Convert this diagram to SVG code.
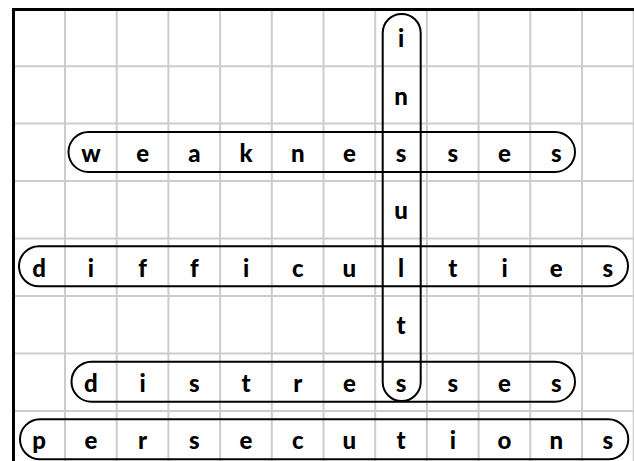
<svg xmlns="http://www.w3.org/2000/svg" width="634" height="461" viewBox="0 0 634 461">
<style>
.g{stroke:#cccccc;stroke-width:2;fill:none}
.b{stroke:#000;stroke-width:3;fill:none}
.w{stroke:#000;stroke-width:2;fill:none}
text{font-family:Lato,"Noto Sans","DejaVu Sans",sans-serif;font-weight:900;font-size:24px;text-anchor:middle;fill:#000}
</style>
<rect width="634" height="461" fill="#fff"/>
<g id="grid" class="g">
<path d="M65,9V461M116.7,9V461M168.4,9V461M220.1,9V461M271.8,9V461M323.5,9V461M375.2,9V461M426.9,9V461M478.6,9V461M530.3,9V461M582,9V461M633.7,9V461"/>
<path d="M13,66.2H634M13,123.6H634M13,181.1H634M13,238.6H634M13,296H634M13,353.5H634M13,411H634"/>
</g>
<g id="border" class="b"><path d="M13.5,461V9.5H634"/></g>
<g id="weaknesses">
<rect class="w" x="68.5" y="132" width="506.5" height="40" rx="20"/>
<text x="90.9" y="161.9">w</text><text x="142.6" y="161.9">e</text><text x="194.3" y="161.9">a</text><text x="246" y="161.9">k</text><text x="297.7" y="161.9">n</text><text x="349.4" y="161.9">e</text><text x="401.1" y="161.9">s</text><text x="452.8" y="161.9">s</text><text x="504.5" y="161.9">e</text><text x="556.2" y="161.9">s</text>
</g>
<g id="difficulties">
<rect class="w" x="19" y="246.3" width="609" height="40" rx="20"/>
<text x="39.2" y="276.8">d</text><text x="90.9" y="276.8">i</text><text x="142.6" y="276.8">f</text><text x="194.3" y="276.8">f</text><text x="246" y="276.8">i</text><text x="297.7" y="276.8">c</text><text x="349.4" y="276.8">u</text><text x="401.1" y="276.8">l</text><text x="452.8" y="276.8">t</text><text x="504.5" y="276.8">i</text><text x="556.2" y="276.8">e</text><text x="607.9" y="276.8">s</text>
</g>
<g id="distresses">
<rect class="w" x="71.5" y="361.7" width="503.5" height="40" rx="20"/>
<text x="90.9" y="391.7">d</text><text x="142.6" y="391.7">i</text><text x="194.3" y="391.7">s</text><text x="246" y="391.7">t</text><text x="297.7" y="391.7">r</text><text x="349.4" y="391.7">e</text><text x="401.1" y="391.7">s</text><text x="452.8" y="391.7">s</text><text x="504.5" y="391.7">e</text><text x="556.2" y="391.7">s</text>
</g>
<g id="persecutions">
<rect class="w" x="20" y="419.3" width="608.3" height="40" rx="20"/>
<text x="39.2" y="449.2">p</text><text x="90.9" y="449.2">e</text><text x="142.6" y="449.2">r</text><text x="194.3" y="449.2">s</text><text x="246" y="449.2">e</text><text x="297.7" y="449.2">c</text><text x="349.4" y="449.2">u</text><text x="401.1" y="449.2">t</text><text x="452.8" y="449.2">i</text><text x="504.5" y="449.2">o</text><text x="556.2" y="449.2">n</text><text x="607.9" y="449.2">s</text>
</g>
<g id="insults">
<rect class="w" x="382.7" y="14" width="38" height="387" rx="19"/>
<text x="401.1" y="47">i</text><text x="401.1" y="104.5">n</text><text x="401.1" y="219.4">u</text><text x="401.1" y="334.3">t</text>
</g>
</svg>
